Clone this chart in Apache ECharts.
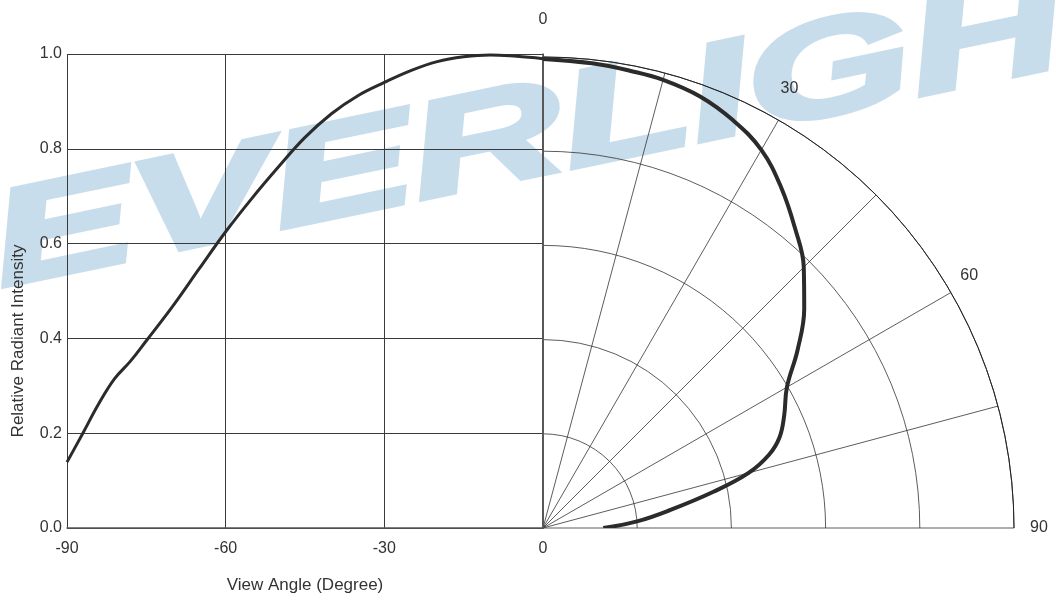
<!DOCTYPE html>
<html>
<head>
<meta charset="utf-8">
<script src="https://cdn.jsdelivr.net/npm/echarts@6/dist/echarts.min.js"></script>
<style>
  html, body { margin: 0; padding: 0; background: #fff; }
  #chart { width: 1056px; height: 601px; }
</style>
</head>
<body>
<div id="chart"></div>
<script>
// left half: relative radiant intensity against view angle (-90 .. 0)
var leftAngles = [-90, -87, -84, -81, -78, -75, -70, -65, -60, -55, -50, -45, -40, -35, -30, -25, -20, -15, -10, -5, 0];
var leftIntensity = [0.139, 0.2, 0.262, 0.315, 0.352, 0.395, 0.468, 0.547, 0.625, 0.696, 0.762, 0.824, 0.874, 0.912, 0.94, 0.965, 0.984, 0.994, 0.998, 0.995, 0.99];

// right half: same pattern in polar form, angle measured from the vertical
var polarAngles = [0, 6, 11, 15, 20, 25, 30, 35, 40, 45, 50, 55, 60, 65, 69, 72, 75, 78, 82, 86, 90];
var polarIntensity = [0.996, 0.992, 0.988, 0.985, 0.975, 0.955, 0.927, 0.882, 0.832, 0.783, 0.724, 0.66, 0.598, 0.565, 0.538, 0.505, 0.452, 0.37, 0.272, 0.2, 0.128];

// only these angles get a label on the arc
var angleLabels = [0, 30, 60, 90];

var font = '"Liberation Sans", Arial, sans-serif';
var chart = echarts.init(document.getElementById('chart'));

chart.setOption({
    animation: false,
    backgroundColor: '#fff',
    // watermark behind the chart
    graphic: [{
        type: 'text',
        x: -6,
        y: 250,
        rotation: 0.205,
        scaleX: 1.58,
        z: -10,
        silent: true,
        style: {
            text: 'EVERLIGHT',
            fill: '#c8ddec',
            stroke: '#c8ddec',
            lineWidth: 5,
            font: 'italic bold 135px "Liberation Sans"',
            textAlign: 'left',
            verticalAlign: 'middle'
        }
    }],
    grid: {
        left: 67,
        right: 513,
        top: 54,
        bottom: 73
    },
    xAxis: {
        type: 'value',
        min: -90,
        max: 0,
        interval: 30,
        axisLine: { lineStyle: { color: '#555', width: 1.5 } },
        axisTick: { show: false },
        axisLabel: { color: '#333', fontSize: 16, fontFamily: font, margin: 13 },
        splitLine: { show: true, lineStyle: { color: '#3a3a3a', width: 1 } },
        name: 'View Angle (Degree)',
        nameLocation: 'middle',
        nameGap: 49,
        nameTextStyle: { color: '#333', fontSize: 17, fontFamily: font }
    },
    yAxis: {
        type: 'value',
        min: 0,
        max: 1,
        interval: 0.2,
        axisLine: { show: true, lineStyle: { color: '#555', width: 1.5 } },
        axisTick: { show: false },
        axisLabel: {
            color: '#333', fontSize: 16, fontFamily: font, margin: 5,
            formatter: function (v) { return v.toFixed(1); }
        },
        splitLine: { show: true, lineStyle: { color: '#3a3a3a', width: 1 } },
        name: 'Relative Radiant Intensity',
        nameLocation: 'middle',
        nameGap: 40,
        nameTextStyle: { color: '#333', fontSize: 17, fontFamily: font, padding: [0, 100, 0, 0] }
    },
    polar: {
        center: [543, 528],
        radius: 471
    },
    angleAxis: {
        type: 'value',
        min: 0,
        max: 90,
        interval: 15,
        startAngle: 90,
        endAngle: 0,
        clockwise: true,
        axisLine: { lineStyle: { color: '#222', width: 1 } },
        axisTick: { show: false },
        axisLabel: {
            color: '#333', fontSize: 16, fontFamily: font, margin: 4,
            formatter: function (v) {
                return angleLabels.indexOf(v) >= 0 ? '{a' + v + '|' + v + '}' : '';
            },
            rich: {
                a0: { padding: [0, 0, 25, 0] },
                a30: { padding: [0, 0, 20, 0] },
                a60: { padding: [0, 0, 7, 6] },
                a90: { padding: [0, 0, 0, 12] }
            }
        },
        splitLine: { show: true, lineStyle: { color: '#333', width: 0.8 } }
    },
    radiusAxis: {
        type: 'value',
        min: 0,
        max: 1,
        interval: 0.2,
        axisLine: { show: true, lineStyle: { color: '#666', width: 2 } },
        axisTick: { show: false },
        axisLabel: { show: false },
        splitLine: { show: true, lineStyle: { color: '#333', width: 0.8 } }
    },
    series: [
        {
            name: 'cartesian',
            type: 'line',
            data: leftAngles.map(function (a, i) { return [a, leftIntensity[i]]; }),
            smooth: 0.4,
            showSymbol: false,
            lineStyle: { color: '#2b2b2b', width: 3 }
        },
        {
            name: 'polar',
            type: 'line',
            coordinateSystem: 'polar',
            data: polarAngles.map(function (a, i) { return [polarIntensity[i], a]; }),
            smooth: 0.4,
            showSymbol: false,
            lineStyle: { color: '#2b2b2b', width: 4 }
        }
    ]
});
</script>
</body>
</html>
